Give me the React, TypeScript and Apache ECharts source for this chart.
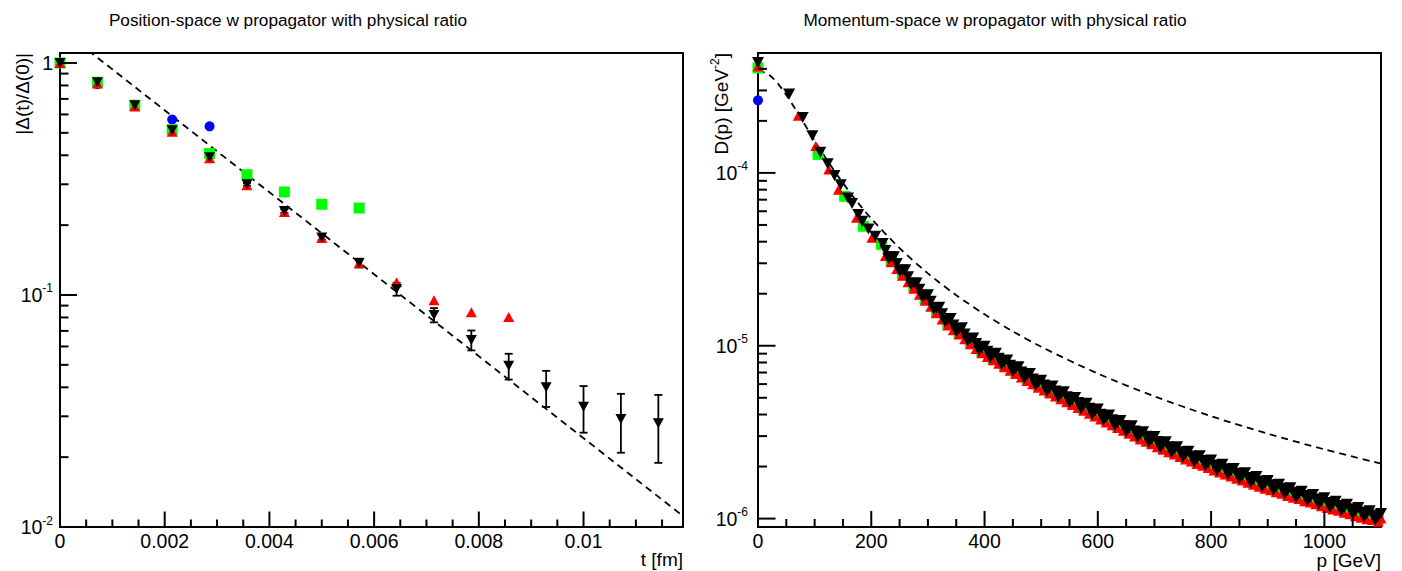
import React, { useEffect, useRef } from 'react';
import * as echarts from 'echarts';

const FONT = '"Liberation Sans", Arial, Helvetica, sans-serif';

// ---------------- Left panel: position space ----------------
const tValues = [0, 0.000714, 0.001429, 0.002143, 0.002857, 0.003571, 0.004286, 0.005, 0.005714, 0.006429, 0.007143, 0.007857, 0.008571, 0.009286, 0.01, 0.010714, 0.011429];
const posBlue = [1.0, 0.81, 0.66, 0.57, 0.533];
const posGreen = [1.0, 0.826, 0.657, 0.516, 0.407, 0.33, 0.278, 0.246, 0.237];
const posRed = [1.0, 0.815, 0.65, 0.505, 0.388, 0.297, 0.228, 0.176, 0.137, 0.1135, 0.0948, 0.0842, 0.0804];
const posBlack = [1.0, 0.826, 0.657, 0.513, 0.392, 0.3, 0.23, 0.177, 0.1374, 0.106, 0.082, 0.064, 0.0495, 0.04, 0.033, 0.0292, 0.028];
const posBlackErr = [0.002, 0.003, 0.003, 0.004, 0.004, 0.004, 0.004, 0.004, 0.006, 0.0067, 0.0058, 0.0063, 0.0063, 0.0071, 0.0075, 0.0083, 0.0091];
const posFitT = [0, 0.0119];
const posFitY = [1.41, 0.01115];
const posXMajor = [0, 0.002, 0.004, 0.006, 0.008, 0.01];
const posXMinor = [0.0005, 0.001, 0.0015, 0.0025, 0.003, 0.0035, 0.0045, 0.005, 0.0055, 0.0065, 0.007, 0.0075, 0.0085, 0.009, 0.0095, 0.0105, 0.011, 0.0115];
const posYMajor = [0.01, 0.1, 1];
const posYMinor = [0.02, 0.03, 0.04, 0.05, 0.06, 0.07, 0.08, 0.09, 0.2, 0.3, 0.4, 0.5, 0.6, 0.7, 0.8, 0.9];

// ---------------- Right panel: momentum space ----------------
const momBlueP = [0];
const momBlueD = [2.63e-4];
const momGreenP = [0, 106, 153, 186, 218, 235, 255, 275, 295, 315, 335, 355, 375, 395, 415, 435, 455, 475, 495, 515, 535, 555, 575, 595, 615, 635, 655, 675, 695, 715, 735, 755, 775, 795, 815, 835, 855, 875, 895, 915, 935, 955, 975, 995, 1015, 1035, 1055, 1075, 1095];
const momGreenD = [4.05e-4, 1.28e-4, 7.32e-5, 4.91e-5, 3.86e-5, 3.12e-5, 2.61e-5, 2.2e-5, 1.87e-5, 1.58e-5, 1.35e-5, 1.19e-5, 1.05e-5, 9.28e-6, 8.45e-6, 7.71e-6, 7.04e-6, 6.43e-6, 5.87e-6, 5.43e-6, 5.03e-6, 4.66e-6, 4.32e-6, 4.0e-6, 3.7e-6, 3.43e-6, 3.18e-6, 2.95e-6, 2.76e-6, 2.57e-6, 2.41e-6, 2.26e-6, 2.13e-6, 2.01e-6, 1.9e-6, 1.8e-6, 1.7e-6, 1.61e-6, 1.53e-6, 1.46e-6, 1.39e-6, 1.33e-6, 1.27e-6, 1.21e-6, 1.16e-6, 1.11e-6, 1.06e-6, 1.02e-6, 0.986e-6];
const momRedP = [0, 71, 102, 125, 142, 174, 201, 225, 245, 265, 285, 305, 325, 345, 365, 385, 405, 425, 445, 465, 485, 505, 525, 545, 565, 585, 605, 625, 645, 665, 685, 705, 725, 745, 765, 785, 805, 825, 845, 865, 885, 905, 925, 945, 965, 985, 1005, 1025, 1045, 1065, 1085, 1100];
const momRedD = [4.13e-4, 2.14e-4, 1.43e-4, 1.045e-4, 8.0e-5, 5.5e-5, 4.21e-5, 3.31e-5, 2.78e-5, 2.33e-5, 1.97e-5, 1.68e-5, 1.42e-5, 1.23e-5, 1.09e-5, 9.57e-6, 8.62e-6, 7.86e-6, 7.17e-6, 6.55e-6, 5.98e-6, 5.5e-6, 5.09e-6, 4.71e-6, 4.37e-6, 4.04e-6, 3.74e-6, 3.47e-6, 3.22e-6, 2.98e-6, 2.78e-6, 2.59e-6, 2.42e-6, 2.27e-6, 2.14e-6, 2.02e-6, 1.9e-6, 1.8e-6, 1.7e-6, 1.61e-6, 1.53e-6, 1.46e-6, 1.39e-6, 1.32e-6, 1.26e-6, 1.21e-6, 1.15e-6, 1.11e-6, 1.06e-6, 1.01e-6, 0.98e-6, 1.0e-6];
const momRedP2 = [235, 255, 275, 295, 315, 335, 355, 375, 395, 415, 435, 455, 475, 495, 515, 535, 555, 575, 595, 615, 635, 655, 675, 695, 715, 735, 755, 775, 795, 815, 835, 855, 875, 895, 915, 935, 955, 975, 995, 1015, 1035, 1055, 1075, 1095];
const momRedD2 = [3.04e-5, 2.54e-5, 2.14e-5, 1.82e-5, 1.54e-5, 1.31e-5, 1.16e-5, 1.02e-5, 9.04e-6, 8.23e-6, 7.51e-6, 6.86e-6, 6.26e-6, 5.72e-6, 5.29e-6, 4.9e-6, 4.54e-6, 4.21e-6, 3.9e-6, 3.6e-6, 3.34e-6, 3.1e-6, 2.87e-6, 2.69e-6, 2.5e-6, 2.35e-6, 2.2e-6, 2.07e-6, 1.96e-6, 1.85e-6, 1.75e-6, 1.66e-6, 1.57e-6, 1.49e-6, 1.42e-6, 1.35e-6, 1.3e-6, 1.24e-6, 1.18e-6, 1.13e-6, 1.08e-6, 1.03e-6, 0.99e-6, 0.96e-6];
const momBlackP = [0, 55, 79, 96, 110, 123, 135, 146, 159, 166, 177, 184, 195, 207,
  220, 230, 240, 250, 260, 270, 280, 290, 300, 310, 320, 330, 340, 350, 360, 370, 380, 390, 400, 410, 420, 430, 440, 450, 460, 470, 480, 490, 500,
  510, 520, 530, 540, 550, 560, 570, 580, 590, 600, 610, 620, 630, 640, 650, 660, 670, 680, 690, 700, 710, 720, 730, 740, 750, 760, 770, 780, 790, 800,
  810, 820, 830, 840, 850, 860, 870, 880, 890, 900, 910, 920, 930, 940, 950, 960, 970, 980, 990, 1000, 1010, 1020, 1030, 1040, 1050, 1060, 1070, 1080, 1090, 1100];
const momBlackD = [4.35e-4, 2.86e-4, 2.09e-4, 1.64e-4, 1.315e-4, 1.13e-4, 9.65e-5, 8.55e-5, 7.16e-5, 6.65e-5, 5.74e-5, 5.25e-5, 4.74e-5, 4.3e-5,
  3.9e-5, 3.21e-5, 3.27e-5, 2.7e-5, 2.75e-5, 2.26e-5, 2.31e-5, 1.92e-5, 1.97e-5, 1.63e-5, 1.67e-5, 1.38e-5, 1.44e-5, 1.21e-5, 1.27e-5, 1.07e-5, 1.11e-5, 9.4e-6, 9.93e-6, 8.54e-6, 9.06e-6, 7.79e-6, 8.27e-6, 7.11e-6, 7.55e-6, 6.48e-6, 6.9e-6, 5.93e-6, 6.31e-6,
  5.46e-6, 5.85e-6, 5.06e-6, 5.41e-6, 4.68e-6, 5.02e-6, 4.34e-6, 4.65e-6, 4.02e-6, 4.3e-6, 3.72e-6, 3.98e-6, 3.46e-6, 3.7e-6, 3.2e-6, 3.44e-6, 2.97e-6, 3.18e-6, 2.77e-6, 2.98e-6, 2.58e-6, 2.78e-6, 2.41e-6, 2.6e-6, 2.27e-6, 2.45e-6, 2.13e-6, 2.31e-6, 2.02e-6, 2.18e-6,
  1.9e-6, 2.06e-6, 1.8e-6, 1.95e-6, 1.7e-6, 1.84e-6, 1.62e-6, 1.75e-6, 1.53e-6, 1.66e-6, 1.46e-6, 1.58e-6, 1.39e-6, 1.51e-6, 1.32e-6, 1.44e-6, 1.27e-6, 1.38e-6, 1.21e-6, 1.32e-6, 1.16e-6, 1.26e-6, 1.11e-6, 1.21e-6, 1.06e-6, 1.16e-6, 1.02e-6, 1.11e-6, 0.98e-6, 1.07e-6];
const momBlackP2 = [225, 235, 245, 255, 265, 275, 285, 295, 305, 315, 325, 335, 345, 355, 365, 375, 385, 395, 405, 415, 425, 435, 445, 455, 465, 475, 485, 495,
  505, 515, 525, 535, 545, 555, 565, 575, 585, 595, 605, 615, 625, 635, 645, 655, 665, 675, 685, 695, 705, 715, 725, 735, 745, 755, 765, 775, 785, 795,
  805, 815, 825, 835, 845, 855, 865, 875, 885, 895, 905, 915, 925, 935, 945, 955, 965, 975, 985, 995, 1005, 1015, 1025, 1035, 1045, 1055, 1065, 1075, 1085, 1095];
const momBlackD2 = [3.56e-5, 3.27e-5, 2.99e-5, 2.74e-5, 2.51e-5, 2.31e-5, 2.12e-5, 1.96e-5, 1.81e-5, 1.66e-5, 1.53e-5, 1.41e-5, 1.32e-5, 1.25e-5, 1.17e-5, 1.1e-5, 1.03e-5, 9.73e-6, 9.28e-6, 8.86e-6, 8.46e-6, 8.08e-6, 7.72e-6, 7.38e-6, 7.05e-6, 6.74e-6, 6.43e-6, 6.15e-6,
  5.92e-6, 5.69e-6, 5.48e-6, 5.27e-6, 5.07e-6, 4.88e-6, 4.7e-6, 4.53e-6, 4.35e-6, 4.19e-6, 4.02e-6, 3.88e-6, 3.73e-6, 3.59e-6, 3.46e-6, 3.33e-6, 3.21e-6, 3.09e-6, 2.99e-6, 2.89e-6, 2.79e-6, 2.69e-6, 2.6e-6, 2.53e-6, 2.44e-6, 2.37e-6, 2.3e-6, 2.23e-6, 2.17e-6, 2.11e-6,
  2.04e-6, 1.99e-6, 1.94e-6, 1.89e-6, 1.83e-6, 1.78e-6, 1.73e-6, 1.69e-6, 1.65e-6, 1.6e-6, 1.57e-6, 1.53e-6, 1.5e-6, 1.46e-6, 1.42e-6, 1.39e-6, 1.36e-6, 1.33e-6, 1.3e-6, 1.27e-6, 1.24e-6, 1.22e-6, 1.19e-6, 1.16e-6, 1.14e-6, 1.11e-6, 1.09e-6, 1.07e-6, 1.05e-6, 1.03e-6];
const momFitP = [0, 20, 40, 60, 80, 100, 120, 140, 160, 180, 200, 250, 300, 350, 400, 450, 500, 600, 700, 800, 900, 1000, 1100];
const momFitD = [3.914e-4, 3.686e-4, 3.137e-4, 2.514e-4, 1.967e-4, 1.537e-4, 1.213e-4, 9.707e-5, 7.891e-5, 6.51e-5, 5.445e-5, 3.669e-5, 2.623e-5, 1.962e-5, 1.52e-5, 1.211e-5, 9.865e-6, 6.904e-6, 5.096e-6, 3.914e-6, 3.099e-6, 2.514e-6, 2.08e-6];
const momXMajor = [0, 200, 400, 600, 800, 1000];
const momXMinor = [50, 100, 150, 250, 300, 350, 450, 500, 550, 650, 700, 750, 850, 900, 950, 1050];
const momYMajor = [1e-6, 1e-5, 1e-4];
const momYMinor = [2e-6, 3e-6, 4e-6, 5e-6, 6e-6, 7e-6, 8e-6, 9e-6, 2e-5, 3e-5, 4e-5, 5e-5, 6e-5, 7e-5, 8e-5, 9e-5, 2e-4, 3e-4, 4e-4];

const L_XMIN = 0, L_XMAX = 0.0119, L_YMIN = 0.01, L_YMAX = 1.104;
const R_XMIN = 0, R_XMAX = 1100, R_YMIN = 0.894e-6, R_YMAX = 4.94e-4;

const zip = (a: number[], b: number[]) => a.map((v, i) => [v, b[i]]);

const logLabel = (v: number) => {
  const l = Math.log10(v);
  const e = Math.round(l);
  if (Math.abs(l - e) > 1e-6) return '';
  if (e === 0) return '{m|1}';
  return `{m|10}{s|${e}}`;
};
const richLbl = {
  m: { fontSize: 19.5, fontFamily: FONT, color: '#000', lineHeight: 25 },
  s: { fontSize: 12, fontFamily: FONT, color: '#000', verticalAlign: 'top', lineHeight: 12 },
};

function tickSeries(xi: number, yi: number, data: number[][], dir: 'x' | 'y', majorLen: number, minorLen: number) {
  return {
    type: 'custom', xAxisIndex: xi, yAxisIndex: yi, silent: true, clip: false, z: 5,
    encode: { x: 0, y: 1 },
    data,
    renderItem: (_p: any, api: any) => {
      const c = api.coord([api.value(0), api.value(1)]);
      const len = api.value(2) ? majorLen : minorLen;
      const shape = dir === 'y'
        ? { x1: c[0], y1: c[1], x2: c[0] + len, y2: c[1] }
        : { x1: c[0], y1: c[1], x2: c[0], y2: c[1] - len };
      return { type: 'line', shape, style: { stroke: '#000', lineWidth: 2 } };
    },
  };
}

const scatter = (xi: number, data: number[][], symbol: string, size: any, color: string, rotate = 0) => ({
  type: 'scatter', xAxisIndex: xi, yAxisIndex: xi, data, symbol, symbolSize: size, symbolRotate: rotate,
  itemStyle: { color, opacity: 1 }, clip: false, silent: true, z: 3,
});

export default function App() {
  const ref = useRef<HTMLDivElement>(null);
  useEffect(() => {
    if (!ref.current) return;
    const chart = echarts.init(ref.current, undefined, { renderer: 'svg' });

    const xAxisCommon = {
      type: 'value', axisLine: { show: false }, axisTick: { show: false }, splitLine: { show: false },
    };
    const yAxisCommon = {
      type: 'log', logBase: 10, axisLine: { show: false }, axisTick: { show: false }, splitLine: { show: false },
    };

    const option: any = {
      animation: false,
      backgroundColor: '#fff',
      grid: [
        { left: 60, top: 53, width: 623, height: 474, show: true, borderColor: '#000', borderWidth: 2, backgroundColor: 'transparent', containLabel: false },
        { left: 758, top: 53, width: 623, height: 474, show: true, borderColor: '#000', borderWidth: 2, backgroundColor: 'transparent', containLabel: false },
      ],
      xAxis: [
        {
          ...xAxisCommon, gridIndex: 0, min: L_XMIN, max: L_XMAX, interval: 0.002,
          axisLabel: {
            fontSize: 19.5, fontFamily: FONT, color: '#000', margin: 4,
            formatter: (v: number) => {
              const k = Math.round(v / 0.002);
              if (Math.abs(v - k * 0.002) > 1e-9) return '';
              return String(parseFloat((k * 0.002).toFixed(4)));
            },
          },
        },
        {
          ...xAxisCommon, gridIndex: 1, min: R_XMIN, max: R_XMAX, interval: 200,
          axisLabel: {
            fontSize: 19.5, fontFamily: FONT, color: '#000', margin: 4,
            formatter: (v: number) => (Math.abs(v - Math.round(v / 200) * 200) > 1e-6 ? '' : String(Math.round(v))),
          },
        },
      ],
      yAxis: [
        { ...yAxisCommon, gridIndex: 0, min: L_YMIN, max: L_YMAX, axisLabel: { margin: 7, formatter: logLabel, rich: richLbl } },
        { ...yAxisCommon, gridIndex: 1, min: R_YMIN, max: R_YMAX, axisLabel: { margin: 10, formatter: logLabel, rich: richLbl } },
      ],
      graphic: [
        { type: 'text', x: 288, y: 20, style: { text: 'Position-space w propagator with physical ratio', font: `17.2px ${FONT}`, fill: '#000', align: 'center', verticalAlign: 'middle' } },
        { type: 'text', x: 995, y: 20, style: { text: 'Momentum-space w propagator with physical ratio', font: `17.2px ${FONT}`, fill: '#000', align: 'center', verticalAlign: 'middle' } },
        { type: 'text', x: 683, y: 559, style: { text: 't [fm]', font: `19px ${FONT}`, fill: '#000', align: 'right', verticalAlign: 'middle' } },
        { type: 'text', x: 1381, y: 560, style: { text: 'p [GeV]', font: `19px ${FONT}`, fill: '#000', align: 'right', verticalAlign: 'middle' } },
        { type: 'text', x: 22, y: 53, rotation: Math.PI / 2, style: { text: '|Δ(t)/Δ(0)|', font: `19px ${FONT}`, fill: '#000', align: 'right', verticalAlign: 'middle' } },
        {
          type: 'text', x: 721, y: 53, rotation: Math.PI / 2,
          style: {
            text: '{a|D(p) [GeV}{b|-2}{a|]}', align: 'right', verticalAlign: 'middle', fill: '#000',
            rich: {
              a: { fontSize: 19, fontFamily: FONT, color: '#000', lineHeight: 24 },
              b: { fontSize: 12, fontFamily: FONT, color: '#000', verticalAlign: 'top', lineHeight: 12 },
            },
          },
        },
      ],
      series: [
        // ticks
        tickSeries(0, 0, [...posYMajor.map((v) => [L_XMIN, v, 1]), ...posYMinor.map((v) => [L_XMIN, v, 0])], 'y', 17, 8.5),
        tickSeries(0, 0, [...posXMajor.map((v) => [v, L_YMIN, 1]), ...posXMinor.map((v) => [v, L_YMIN, 0])], 'x', 15.5, 7.5),
        tickSeries(1, 1, [...momYMajor.map((v) => [R_XMIN, v, 1]), ...momYMinor.map((v) => [R_XMIN, v, 0])], 'y', 17.5, 9),
        tickSeries(1, 1, [...momXMajor.map((v) => [v, R_YMIN, 1]), ...momXMinor.map((v) => [v, R_YMIN, 0])], 'x', 16, 8),
        // fits
        {
          type: 'line', xAxisIndex: 0, yAxisIndex: 0, data: zip(posFitT, posFitY), showSymbol: false, symbol: 'none',
          lineStyle: { color: '#000', width: 1.8, type: [7, 5] }, clip: true, silent: true, z: 2,
        },
        {
          type: 'line', xAxisIndex: 1, yAxisIndex: 1, data: zip(momFitP, momFitD), showSymbol: false, symbol: 'none', smooth: 0.3,
          lineStyle: { color: '#000', width: 1.8, type: [7, 5] }, clip: true, silent: true, z: 2,
        },
        // error bars (left, black)
        {
          type: 'custom', xAxisIndex: 0, yAxisIndex: 0, silent: true, clip: false, z: 3,
          encode: { x: 0, y: 1 },
          data: tValues.map((t, i) => [t, posBlack[i], posBlackErr[i]]),
          renderItem: (_p: any, api: any) => {
            const t = api.value(0), v = api.value(1), e = api.value(2);
            const top = api.coord([t, v + e]);
            const bot = api.coord([t, v - e]);
            const st = { stroke: '#000', lineWidth: 1.8 };
            return {
              type: 'group', children: [
                { type: 'line', shape: { x1: top[0], y1: top[1], x2: bot[0], y2: bot[1] }, style: st },
                { type: 'line', shape: { x1: top[0] - 4, y1: top[1], x2: top[0] + 4, y2: top[1] }, style: st },
                { type: 'line', shape: { x1: bot[0] - 4, y1: bot[1], x2: bot[0] + 4, y2: bot[1] }, style: st },
              ],
            };
          },
        },
        // left markers
        scatter(0, zip(tValues.slice(0, posBlue.length), posBlue), 'circle', 10, '#0000ff'),
        scatter(0, zip(tValues.slice(0, posGreen.length), posGreen), 'rect', 11, '#00ff00'),
        scatter(0, zip(tValues.slice(0, posRed.length), posRed), 'triangle', [11, 10], '#ff0000'),
        scatter(0, zip(tValues, posBlack), 'triangle', [11, 10], '#000000', 180),
        // right markers
        scatter(1, zip(momBlueP, momBlueD), 'circle', 10, '#0000ff'),
        scatter(1, zip(momGreenP, momGreenD), 'rect', 11, '#00ff00'),
        scatter(1, [...zip(momRedP, momRedD), ...zip(momRedP2, momRedD2)], 'triangle', [11, 10], '#ff0000'),
        scatter(1, [...zip(momBlackP, momBlackD), ...zip(momBlackP2, momBlackD2)], 'triangle', [12, 11], '#000000', 180),
      ],
    };
    chart.setOption(option);
    return () => chart.dispose();
  }, []);
  return <div ref={ref} style={{ position: 'absolute', left: 0, top: 0, width: 1402, height: 571, background: '#fff' }} />;
}
